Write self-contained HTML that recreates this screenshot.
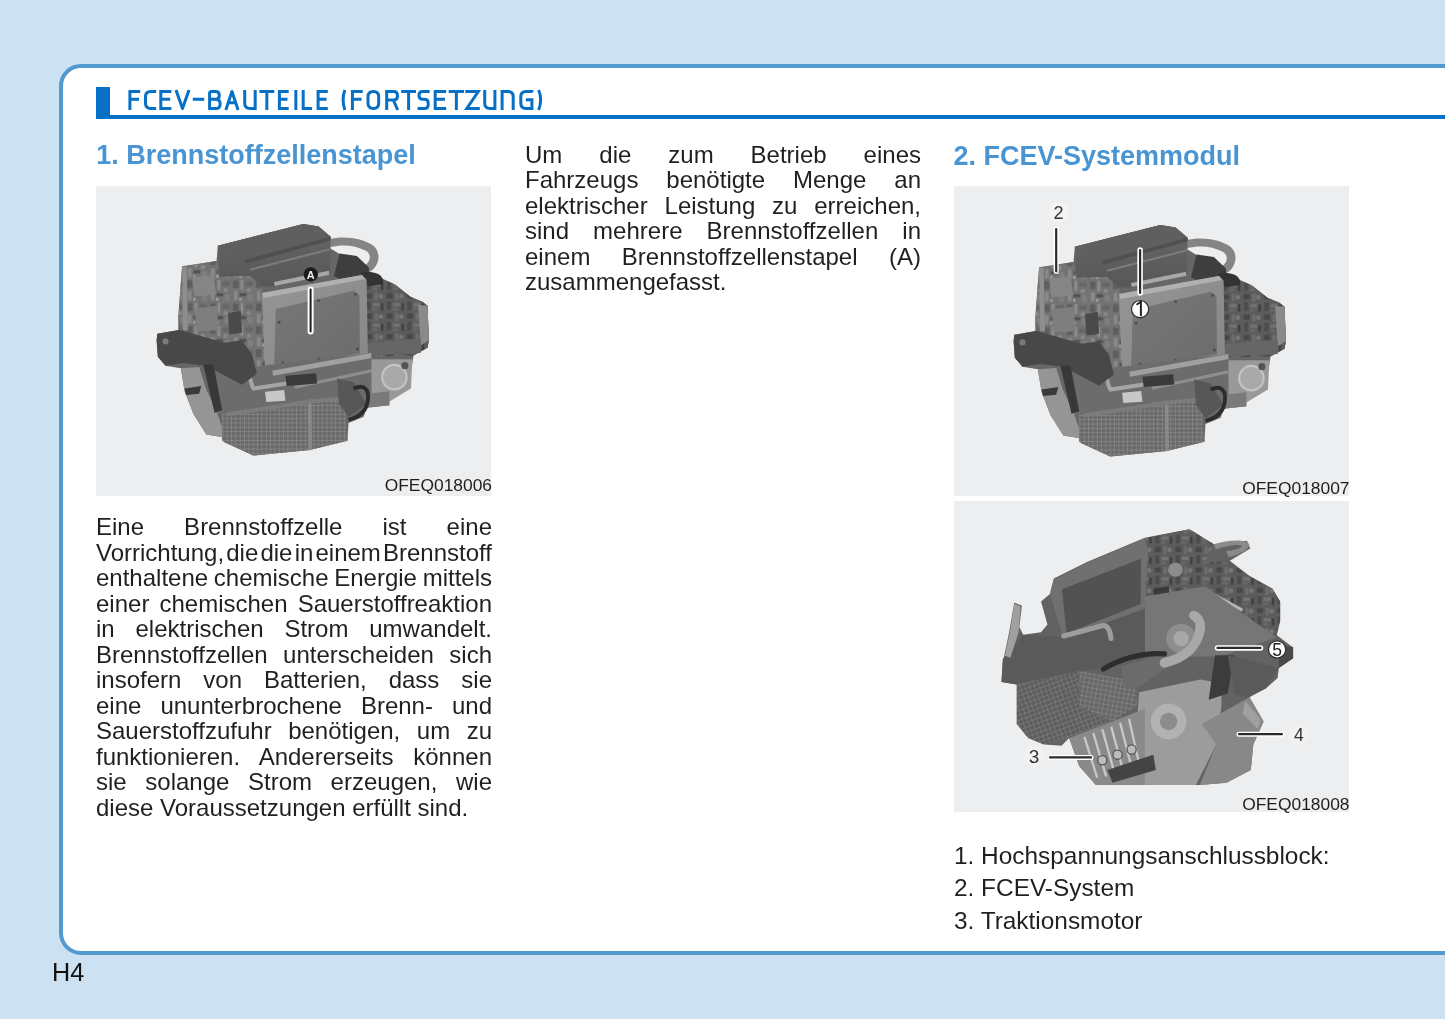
<!DOCTYPE html>
<html><head><meta charset="utf-8">
<style>
html,body{margin:0;padding:0;}
body{width:1445px;height:1019px;overflow:hidden;background:#cce2f3;position:relative;font-family:"Liberation Sans",sans-serif;color:#231f20;}
.box{position:absolute;left:59px;top:64px;width:1450px;height:883px;border:4px solid #5299cf;border-radius:22px;background:#fff;}
.tblock{position:absolute;left:96px;top:86.6px;width:14px;height:32px;background:#0670c6;}
.tline{position:absolute;left:96px;top:115px;width:1400px;height:3.8px;background:#0670c6;}
.h{position:absolute;font-weight:bold;font-size:27px;line-height:30px;color:#4994d2;white-space:nowrap;}
.img{position:absolute;background:#edeef0;}
.cap{position:absolute;width:200px;font-size:17.4px;line-height:20px;white-space:nowrap;color:#1e1e1e;text-align:right;}
.txt div{position:absolute;width:394px;height:26px;font-size:24px;line-height:26px;white-space:nowrap;text-align:justify;text-align-last:justify;}
.list div{position:absolute;left:954px;font-size:24.4px;line-height:30px;white-space:nowrap;}
.pg{position:absolute;left:52px;top:957.5px;font-size:25.2px;line-height:28px;color:#111;}
svg.eng{position:absolute;left:0;top:0;}
.wrap{position:absolute;left:0;top:0;width:1445px;height:1019px;will-change:transform;}
</style></head>
<body>
<div class="box"></div>
<div class="wrap">
<div class="tblock"></div>
<div class="tline"></div>
<svg class="ttl" width="1445" height="130" viewBox="0 0 1445 130" style="position:absolute;left:0;top:0"><g fill="none" stroke="#0670c6" stroke-width="3.0" stroke-linecap="butt"><path d="M129.90 110.00V91.50H140.20M129.90 99.30H139.00M156.20 91.50H150.70Q145.50 91.50 145.50 96.70V103.30Q145.50 108.50 150.70 108.50H156.20M171.40 91.50H160.80V108.50H171.40M160.80 99.30H170.20M192.80 99.30H204.20M209.60 91.50H215.50Q219.30 91.50 219.30 95.30V95.50Q219.30 99.30 215.50 99.30H209.60M215.50 99.30Q220.10 99.30 220.10 103.60V104.20Q220.10 108.50 215.80 108.50H209.60V91.50M244.70 90.00V103.30Q244.70 108.50 249.90 108.50H255.20M255.20 90.00V110.00M259.40 91.50H274.30M266.85 91.50V110.00M288.70 91.50H279.40V108.50H288.70M279.40 99.30H287.50M295.85 90.00V110.00M303.20 90.00V108.50H312.10M327.80 91.50H318.10V108.50H327.80M318.10 99.30H326.60M344.90 90.00Q341.30 99.30 344.90 110.00M352.40 110.00V91.50H362.70M352.40 99.30H361.50M373.20 91.50H373.50Q378.70 91.50 378.70 96.70V103.30Q378.70 108.50 373.50 108.50H373.20Q368.00 108.50 368.00 103.30V96.70Q368.00 91.50 373.20 91.50ZM386.70 110.00V91.50H393.60Q397.40 91.50 397.40 95.30V96.30Q397.40 100.10 393.60 100.10H386.70M393.40 100.10L397.70 110.00M401.20 91.50H416.00M408.60 91.50V110.00M429.70 91.50H422.80Q419.00 91.50 419.00 95.30V95.50Q419.00 99.30 422.80 99.30H424.40Q428.20 99.30 428.20 103.10V104.70Q428.20 108.50 424.40 108.50H417.50M446.20 91.50H435.20V108.50H446.20M435.20 99.30H445.00M448.70 91.50H464.00M456.35 91.50V110.00M465.30 91.50H478.30L466.80 108.50H479.80M484.70 90.00V103.30Q484.70 108.50 489.90 108.50H494.90M494.90 90.00V110.00M502.10 110.00V91.50H508.00Q513.20 91.50 513.20 96.70V110.00M531.90 92.50V91.50H526.00Q520.80 91.50 520.80 96.70V103.30Q520.80 108.50 526.00 108.50H531.90V99.80H525.85M538.60 90.00Q542.70 99.30 538.60 110.00" stroke-linejoin="miter"/><path d="M176.00 90.00L182.50 108.50L189.00 90.00M225.80 110.00L231.95 91.50L238.10 110.00M228.19 102.80H235.71" stroke-linejoin="round"/></g></svg>

<div class="h" style="left:96.3px;top:139.6px;">1. Brennstoffzellenstapel</div>
<div class="h" style="left:953.5px;top:140.5px;">2. FCEV-Systemmodul</div>

<div class="img" style="left:96px;top:185.6px;width:395px;height:310px;"></div>
<div class="img" style="left:954px;top:185.6px;width:395px;height:310.3px;"></div>
<div class="img" style="left:954px;top:501.4px;width:395px;height:310.6px;"></div>

<svg class="eng" width="1445" height="1019" viewBox="0 0 1445 1019">
<defs>
<linearGradient id="gCover" x1="0" y1="0" x2="0" y2="1"><stop offset="0" stop-color="#676767"/><stop offset="1" stop-color="#575757"/></linearGradient>
<linearGradient id="gPlate" x1="0" y1="0" x2="1" y2="1"><stop offset="0" stop-color="#777"/><stop offset="1" stop-color="#6c6c6c"/></linearGradient>
<linearGradient id="gFrame" x1="0" y1="0" x2="1" y2="1"><stop offset="0" stop-color="#959595"/><stop offset="1" stop-color="#878787"/></linearGradient>
<pattern id="grid" width="17" height="17" patternUnits="userSpaceOnUse"><rect width="17" height="17" fill="#6a6a6a"/><path d="M0 1H17M1 0V17" stroke="#8c8c8c" stroke-width="3"/></pattern>
<pattern id="det" width="90" height="90" patternUnits="userSpaceOnUse"><rect width="90" height="90" fill="#737373"/><rect x="4" y="6" width="22" height="30" fill="#5e5e5e"/><rect x="34" y="4" width="10" height="40" fill="#8e8e8e"/><rect x="52" y="10" width="30" height="18" fill="#666"/><circle cx="66" cy="44" r="8" fill="#8a8a8a"/><rect x="8" y="48" width="14" height="36" fill="#898989"/><rect x="30" y="56" width="26" height="12" fill="#505050"/><rect x="62" y="60" width="20" height="26" fill="#7e7e7e"/><rect x="28" y="74" width="10" height="12" fill="#9a9a9a"/></pattern>
<pattern id="det2" width="80" height="80" patternUnits="userSpaceOnUse"><rect width="80" height="80" fill="#5c5c5c"/><rect x="6" y="6" width="24" height="20" fill="#474747"/><rect x="40" y="4" width="12" height="30" fill="#6e6e6e"/><circle cx="64" cy="18" r="9" fill="#777"/><rect x="8" y="38" width="16" height="34" fill="#4c4c4c"/><rect x="32" y="44" width="28" height="14" fill="#727272"/><rect x="64" y="46" width="10" height="28" fill="#404040"/><rect x="30" y="64" width="20" height="10" fill="#686868"/></pattern>
<pattern id="grid3" width="18" height="18" patternUnits="userSpaceOnUse" patternTransform="rotate(-20)"><rect width="18" height="18" fill="#5e5e5e"/><path d="M0 1H18M1 0V18" stroke="#808080" stroke-width="3"/></pattern>
<pattern id="grid3b" width="18" height="18" patternUnits="userSpaceOnUse" patternTransform="rotate(10)"><rect width="18" height="18" fill="#686868"/><path d="M0 1H18M1 0V18" stroke="#888" stroke-width="3"/></pattern>
<g id="engine">
  <path d="M165 220 L300 200 L305 140 L640 55 L700 65 L747 105 L745 150 L870 225 L905 245 L952 270 L960 288 L997 290 L1060 340 L1107 360 L1127 375 L1132 510 L1127 540 L1072 570 L1062 635 L1042 700 L977 750 L977 765 L887 775 L877 810 L817 835 L813 904 L665 941 L444 962 L330 910 L320 890 L260 880 L210 800 L175 710 L160 620 L100 610 L70 575 L65 510 L68 485 L150 470 L150 420 Z" fill="#666"/>
  <path d="M165 222 L300 200 L310 255 L430 258 L480 300 L492 625 L420 610 L350 525 L170 475 L150 420 Z" fill="url(#det)"/>
  <path d="M205 265 L290 255 L298 330 L212 340 Z" fill="#858585"/>
  <path d="M215 385 L300 375 L308 470 L220 478 Z" fill="#7e7e7e"/>
  <path d="M345 405 L395 395 L400 480 L350 488 Z" fill="#4a4a4a"/>
  <path d="M165 222 L183 222 L188 470 L168 470 Z" fill="#8e8e8e"/>
  <path d="M875 262 L952 270 L997 290 L1060 340 L1107 360 L1127 375 L1132 510 L1127 540 L1072 570 L885 575 Z" fill="url(#det2)"/>
  <path d="M1090 372 L1127 375 L1132 510 L1100 530 Z" fill="#8a8a8a"/>
  <path d="M895 520 L1100 505 L1100 560 L885 570 Z" fill="#666"/>
  <path d="M740 115 C800 100 870 110 915 140 C945 165 940 215 905 240 L880 250 L870 225 C905 205 910 175 885 160 C840 135 790 135 745 145 Z" fill="#858585"/>
  <path d="M782 170 L850 180 L897 225 L900 290 L860 305 L760 260 Z" fill="#3e3e3e"/>
  <path d="M867 245 C930 235 960 260 952 290 L895 300 Z" fill="#333"/>
  <path d="M305 140 L640 55 L700 65 L747 105 L745 250 L530 300 L480 300 L430 258 L312 262 Z" fill="url(#gCover)"/>
  <path d="M305 140 L640 55 L700 65 L747 105 L410 195 Z" fill="#5f5f5f"/>
  <path d="M410 195 L747 105 L747 120 L415 210 Z" fill="#505050"/>
  <path d="M430 230 L745 150 L745 158 L432 238 Z" fill="#7c7c7c"/>
  <path d="M525 282 L740 238 L742 254 L528 298 Z" fill="#a8a8a8"/>
  <path d="M478 325 L870 255 L888 272 L893 560 L862 592 L522 652 L490 622 Z" fill="url(#gFrame)"/>
  <path d="M478 325 L870 255 L882 270 L485 345 Z" fill="#b0b0b0"/>
  <path d="M532 388 L838 316 L860 334 L862 560 L548 622 L526 602 Z" fill="url(#gPlate)"/>
  <g fill="#4e4e4e"><circle cx="545" cy="440" r="6"/><circle cx="700" cy="355" r="6"/><circle cx="845" cy="330" r="6"/><circle cx="852" cy="545" r="6"/><circle cx="560" cy="600" r="6"/><circle cx="700" cy="585" r="6"/></g>
  <path d="M400 620 L907 560 L907 725 L887 775 L607 770 L475 790 L300 800 L285 605 Z" fill="#6c6c6c"/>
  <path d="M415 560 C425 620 430 680 445 700 L607 675" fill="none" stroke="#a5a5a5" stroke-width="16"/>
  <path d="M520 640 L907 570" fill="none" stroke="#a0a0a0" stroke-width="20"/>
  <path d="M607 695 L907 630" fill="none" stroke="#8e8e8e" stroke-width="12"/>
  <path d="M490 712 L565 705 L570 748 L495 752 Z" fill="#c8c8c8"/>
  <path d="M570 650 L690 640 L695 680 L575 690 Z" fill="#3a3a3a"/>
  <path d="M68 485 L155 470 L330 520 L400 510 L440 568 L458 642 L400 685 L260 610 L170 600 L100 610 L70 575 L65 510 Z" fill="#484848"/>
  <circle cx="100" cy="515" r="12" fill="#7a7a7a"/>
  <path d="M160 620 L232 615 L258 700 L300 790 L332 880 L320 890 L260 880 L210 800 L175 710 Z" fill="#959595"/>
  <path d="M175 700 L240 690 L232 720 L180 725 Z" fill="#3a3a3a"/>
  <path d="M248 605 L288 605 L322 785 L292 795 Z" fill="#383838"/>
  <path d="M321 800 L345 793 L665 744 L801 731 L813 904 L665 941 L444 962 L321 904 Z" fill="url(#grid)"/>
  <path d="M658 744 L672 743 L674 941 L660 942 Z" fill="#8a8a8a"/><path d="M345 793 L665 744 L801 731 L801 745 L665 758 L345 808 Z" fill="#7c7c7c"/>
  <path d="M907 585 L1067 585 L1062 700 L977 750 L907 725 Z" fill="#999"/>
  <circle cx="997" cy="655" r="48" fill="#a9a9a9" stroke="#c4c4c4" stroke-width="8"/>
  <circle cx="1038" cy="610" r="14" fill="#555"/>
  <path d="M887 720 L977 710 L977 765 L887 775 Z" fill="#7a7a7a"/>
  <path d="M772 660 L837 675 L887 760 L817 810 L780 760 Z" fill="#575757"/>
  <path d="M837 700 C880 680 898 705 893 745 C888 790 862 812 817 822" fill="none" stroke="#2c2c2c" stroke-width="15"/>
</g>
<g id="engine3">
  <path d="M250 210 L380 145 L607 50 L782 17 L877 75 L1007 62 L1020 92 L940 140 L1017 200 L1107 250 L1137 300 L1137 375 L1122 430 L1185 478 L1188 522 L1132 560 L1127 600 L1082 640 L1017 675 L1072 770 L1032 860 L1022 960 L927 1010 L822 1019 L415 1019 L350 945 L310 835 L280 865 L215 860 L150 835 L105 780 L105 625 L45 615 L50 540 L75 420 L95 305 L125 315 L115 400 L130 430 L200 420 L225 390 L200 300 L235 270 Z" fill="#626262"/>
  <path d="M250 215 L380 148 L607 52 L640 100 L620 320 L290 450 L235 270 Z" fill="#707070"/>
  <path d="M282 252 L592 132 L590 310 L300 425 Z" fill="#525252"/>
  <path d="M607 52 L782 17 L877 75 L842 150 L842 240 L607 280 L620 100 Z" fill="url(#det2)"/>
  <circle cx="727" cy="175" r="28" fill="#8c8c8c"/><path d="M640 250 L700 240 L705 290 L645 300 Z" fill="#3a3a3a"/>
  <path d="M842 150 L927 140 L1017 200 L1107 250 L1137 300 L1137 375 L1122 440 L842 240 Z" fill="url(#det2)"/>
  <path d="M832 242 L992 328 L987 340 L827 254 Z" fill="#b4b4b4"/>
  <path d="M877 75 C930 60 1005 52 1017 78 C1010 105 960 120 935 125 L925 102 C960 98 990 90 985 80 C965 74 925 82 885 95 Z" fill="#8a8a8a"/>
  <path d="M607 280 L842 240 L1122 440 L907 515 L607 515 Z" fill="#767676"/>
  <path d="M50 525 L130 432 L290 440 L607 330 L607 520 L350 575 L105 625 L45 615 Z" fill="#5a5a5a"/>
  <path d="M289 435 L439 395 C460 390 470 410 474 445" fill="none" stroke="#9c9c9c" stroke-width="20" stroke-linecap="round"/>
  <path d="M95 310 L120 318 L112 420 L80 520 L58 512 L78 420 Z" fill="#a0a0a0"/>
  <path d="M105 622 L350 572 L350 710 L480 770 L300 835 L210 860 L150 835 L105 780 Z" fill="url(#grid3)"/>
  <path d="M350 572 L575 612 L575 710 L480 770 L350 710 Z" fill="url(#grid3b)"/>
  <path d="M514 555 L684 505 L692 560 L574 640 L524 632 Z" fill="#6c6c6c"/>
  <path d="M444 565 C520 520 600 500 684 505" fill="none" stroke="#2e2e2e" stroke-width="20" stroke-linecap="round"/>
  <circle cx="749" cy="445" r="58" fill="#8e8e8e"/>
  <circle cx="749" cy="445" r="30" fill="#a8a8a8"/>
  <path d="M684 540 C770 520 815 470 824 405 C826 380 815 362 799 355" fill="none" stroke="#a8a8a8" stroke-width="38" stroke-linecap="round"/>
  <path d="M584 655 L824 605 L907 620 L907 710 L887 860 L807 1019 L607 1019 L575 780 Z" fill="#9c9c9c"/>
  <circle cx="700" cy="770" r="70" fill="#b2b2b2"/>
  <circle cx="700" cy="770" r="34" fill="#8c8c8c"/>
  <path d="M310 835 L480 770 L607 720 L607 1019 L415 1019 L350 945 Z" fill="#8a8a8a"/>
  <g stroke="#c8c8c8" stroke-width="9" fill="none">
    <path d="M370 830 L420 990"/><path d="M405 815 L455 985"/><path d="M440 800 L490 980"/><path d="M475 790 L525 975"/><path d="M510 775 L560 970"/><path d="M545 760 L590 960"/>
  </g>
  <g fill="#bcbcbc" stroke="#555" stroke-width="5"><circle cx="440" cy="922" r="18"/><circle cx="500" cy="900" r="18"/><circle cx="555" cy="880" r="18"/></g>
  <path d="M460 960 L640 900 L650 960 L480 1010 Z" fill="#444"/>
  <path d="M882 510 L957 510 L932 660 L857 685 Z" fill="#3c3c3c"/>
  <path d="M932 510 L1132 560 L1082 640 L1007 675 L957 660 Z" fill="#5a5a5a"/>
  <path d="M830 780 L1017 675 L1072 770 L1032 860 L1022 960 L927 1010 L822 1019 L887 860 Z" fill="#888"/>
  <path d="M1000 690 L1060 760 L1050 800 L990 740 Z" fill="#a0a0a0"/>
  <path d="M1132 470 L1188 478 L1188 522 L1132 560 Z" fill="#4a4a4a"/>
</g>
</defs>
<use href="#engine" transform="translate(140 210) scale(0.25517)"/>
<use href="#engine" transform="translate(997 211) scale(0.25517)"/>
<use href="#engine3" transform="translate(990 525) scale(0.25517)"/>
<g stroke-linecap="round">
  <line x1="310.6" y1="289.5" x2="310.6" y2="331.5" stroke="#fff" stroke-width="6"/>
  <line x1="310.6" y1="289.5" x2="310.6" y2="331.5" stroke="#1e1e1e" stroke-width="2"/>
  <circle cx="310.8" cy="274.5" r="7.2" fill="#1b1b1b"/>
  <text x="310.8" y="278.6" font-family="Liberation Sans" font-weight="bold" font-size="11" fill="#eee" text-anchor="middle">A</text>

  <line x1="1056.2" y1="229" x2="1056.2" y2="271.5" stroke="#fff" stroke-width="5"/>
  <line x1="1056.2" y1="229" x2="1056.2" y2="271.5" stroke="#2a2a2a" stroke-width="2.2"/>
  <circle cx="1058.5" cy="212.2" r="10" fill="#f4f4f4"/>
  <text x="1058.5" y="218.8" font-family="Liberation Sans" font-size="18" fill="#333" text-anchor="middle">2</text>
  <line x1="1140.1" y1="250" x2="1140.1" y2="293" stroke="#fff" stroke-width="5.5"/>
  <line x1="1140.1" y1="250" x2="1140.1" y2="293" stroke="#2a2a2a" stroke-width="2.2"/>
  <circle cx="1140.1" cy="309.1" r="8.6" fill="#fff" stroke="#2a2a2a" stroke-width="1.2"/>
  <path d="M1137.2 304.2 L1140.9 301.6 L1140.9 315.2" fill="none" stroke="#222" stroke-width="2"/>

  <line x1="1217.5" y1="647.9" x2="1260.5" y2="647.9" stroke="#fff" stroke-width="5.5"/>
  <line x1="1217.5" y1="647.9" x2="1260.5" y2="647.9" stroke="#2a2a2a" stroke-width="2.2"/>
  <circle cx="1277.1" cy="649.4" r="8.6" fill="#fff" stroke="#2a2a2a" stroke-width="1.2"/>
  <text x="1277.1" y="655.6" font-family="Liberation Sans" font-size="17.5" fill="#222" text-anchor="middle">5</text>
  <line x1="1239" y1="734.2" x2="1282" y2="734.2" stroke="#fff" stroke-width="5"/>
  <line x1="1239" y1="734.2" x2="1282" y2="734.2" stroke="#2a2a2a" stroke-width="2.2"/>
  <circle cx="1298.9" cy="734.8" r="10" fill="#f2f2f2"/>
  <text x="1298.9" y="741.2" font-family="Liberation Sans" font-size="17.5" fill="#333" text-anchor="middle">4</text>
  <line x1="1050" y1="757.4" x2="1091" y2="757.4" stroke="#fff" stroke-width="5"/>
  <line x1="1050" y1="757.4" x2="1091" y2="757.4" stroke="#2a2a2a" stroke-width="2.2"/>
  <circle cx="1034" cy="755.9" r="10.5" fill="#f2f2f2"/>
  <text x="1034" y="762.8" font-family="Liberation Sans" font-size="19" fill="#333" text-anchor="middle">3</text>
</g>
</svg>

<div class="cap" style="left:292px;top:474.8px;">OFEQ018006</div>
<div class="cap" style="left:1149.5px;top:477.6px;">OFEQ018007</div>
<div class="cap" style="left:1149.5px;top:794.4px;">OFEQ018008</div>

<div class="txt" id="colL">
<div style="left:96px;top:514px;word-spacing:33.42px;text-align-last:left">Eine Brennstoffzelle ist eine</div>
<div style="left:96px;top:539.5px;word-spacing:-4.50px;text-align-last:left">Vorrichtung, die die in einem Brennstoff</div>
<div style="left:96px;top:565px;word-spacing:-0.96px;text-align-last:left">enthaltene chemische Energie mittels</div>
<div style="left:96px;top:590.5px;word-spacing:3.45px;text-align-last:left">einer chemischen Sauerstoffreaktion</div>
<div style="left:96px;top:616px;word-spacing:14.17px;text-align-last:left">in elektrischen Strom umwandelt.</div>
<div style="left:96px;top:641.5px;word-spacing:8.77px;text-align-last:left">Brennstoffzellen unterscheiden sich</div>
<div style="left:96px;top:667px;word-spacing:15.29px;text-align-last:left">insofern von Batterien, dass sie</div>
<div style="left:96px;top:692.5px;word-spacing:12.35px;text-align-last:left">eine ununterbrochene Brenn- und</div>
<div style="left:96px;top:718px;word-spacing:9.84px;text-align-last:left">Sauerstoffzufuhr benötigen, um zu</div>
<div style="left:96px;top:743.5px;word-spacing:13.21px;text-align-last:left">funktionieren. Andererseits können</div>
<div style="left:96px;top:769px;word-spacing:11.95px;text-align-last:left">sie solange Strom erzeugen, wie</div>
<div style="left:96px;top:794.5px;text-align-last:left">diese Voraussetzungen erfüllt sind.</div>
</div>

<div class="txt" id="colM">
<div style="left:525px;top:141.5px;word-spacing:30.30px;text-align-last:left">Um die zum Betrieb eines</div>
<div style="left:525px;top:167px;word-spacing:21.26px;text-align-last:left">Fahrzeugs benötigte Menge an</div>
<div style="left:525px;top:192.5px;word-spacing:10.16px;text-align-last:left">elektrischer Leistung zu erreichen,</div>
<div style="left:525px;top:218px;word-spacing:17.42px;text-align-last:left">sind mehrere Brennstoffzellen in</div>
<div style="left:525px;top:243.5px;word-spacing:24.80px;text-align-last:left">einem Brennstoffzellenstapel (A)</div>
<div style="left:525px;top:269px;text-align-last:left">zusammengefasst.</div>
</div>

<div class="list">
<div style="top:841px">1. Hochspannungsanschlussblock:</div>
<div style="top:873.4px">2. FCEV-System</div>
<div style="top:905.6px">3. Traktionsmotor</div>
</div>

<div class="pg">H4</div>
</div>
</body></html>
